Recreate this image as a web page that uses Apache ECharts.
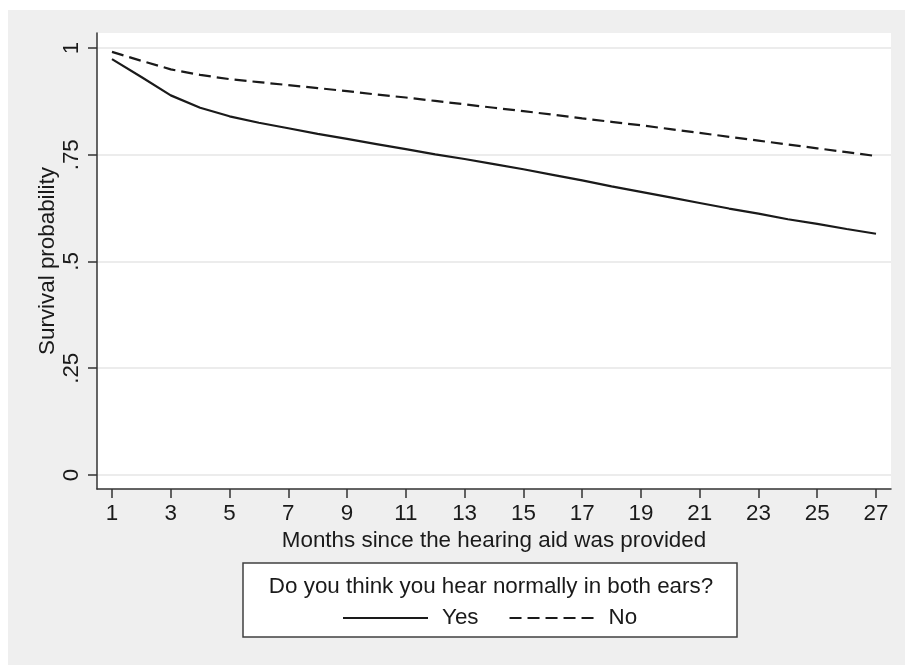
<!DOCTYPE html>
<html>
<head>
<meta charset="utf-8">
<script src="https://cdn.jsdelivr.net/npm/echarts@6/dist/echarts.min.js"></script>
<style>
html,body{margin:0;padding:0;background:#fff;}
#chart{width:905px;height:665px;}
</style>
</head>
<body>
<div id="chart"></div>
<script>
const months = [1,2,3,4,5,6,7,8,9,10,11,12,13,14,15,16,17,18,19,20,21,22,23,24,25,26,27];
const yesValues = [0.974,0.932,0.889,0.860,0.840,0.825,0.812,0.799,0.787,0.775,0.763,0.751,0.740,0.728,0.716,0.703,0.690,0.676,0.663,0.650,0.637,0.624,0.612,0.599,0.588,0.576,0.565];
const noValues  = [0.991,0.970,0.950,0.937,0.927,0.920,0.913,0.906,0.899,0.891,0.884,0.876,0.868,0.860,0.852,0.844,0.835,0.827,0.819,0.810,0.801,0.792,0.783,0.774,0.765,0.756,0.747];
const xTickValues = [1,3,5,7,9,11,13,15,17,19,21,23,25,27];
const yTickValues = [0,0.25,0.5,0.75,1];
const yTickLabels = ['0','.25','.5','.75','1'];
const seriesNames = ['Yes','No'];
const legendTitle = 'Do you think you hear normally in both ears?';
const xTitle = 'Months since the hearing aid was provided';
const yTitle = 'Survival probability';

const FONT = '"Liberation Sans", Arial, Helvetica, sans-serif';
const FS = 22.4;
const INK = '#1a1a1a';
const AXIS = '#333333';

const chart = echarts.init(document.getElementById('chart'), null, {renderer:'canvas'});
chart.setOption({
  backgroundColor: '#ffffff',
  animation: false,
  textStyle: {fontFamily: FONT, color: INK},
  graphic: [
    {type:'rect', z:-10, silent:true, shape:{x:8, y:10, width:897, height:655}, style:{fill:'#efefef'}},
    {type:'rect', z:10, silent:true, shape:{x:243, y:563, width:494, height:74}, style:{fill:'#ffffff', stroke:'#404040', lineWidth:1.5}},
    {type:'text', z:11, silent:true, x:491, y:587, style:{text:legendTitle, font:FS + 'px ' + FONT, fill:INK, textAlign:'center', textVerticalAlign:'middle'}}
  ],
  grid: {left:97, top:33, right:14, bottom:176, show:true, backgroundColor:'#ffffff', borderWidth:0},
  legend: {
    z: 12,
    left: 342, top: 607, padding: 0,
    itemWidth: 85, itemHeight: 22, itemGap: 30,
    itemStyle: {opacity: 0},
    textStyle: {fontSize:FS, fontFamily:FONT, color:INK, padding:[0,0,0,9]},
    data: seriesNames
  },
  xAxis: {
    type:'value', min:0.49, max:27.51,
    name: xTitle, nameLocation:'middle', nameGap:41, nameMoveOverlap:false,
    nameTextStyle:{fontSize:FS, fontFamily:FONT, color:INK},
    axisLine:{show:true, onZero:false, lineStyle:{color:AXIS, width:1.5}},
    axisTick:{show:true, length:9, lineStyle:{color:AXIS, width:1.5}, customValues:xTickValues},
    axisLabel:{fontSize:FS, fontFamily:FONT, color:INK, margin:14, customValues:xTickValues},
    splitLine:{show:false}
  },
  yAxis: {
    type:'value', min:-0.0328, max:1.0351,
    name: yTitle, nameLocation:'middle', nameGap:38, nameMoveOverlap:false,
    nameTextStyle:{fontSize:FS, fontFamily:FONT, color:INK},
    axisLine:{show:true, onZero:false, lineStyle:{color:AXIS, width:1.5}},
    axisTick:{show:true, length:9, lineStyle:{color:AXIS, width:1.5}, customValues:yTickValues},
    axisLabel:{fontSize:FS, fontFamily:FONT, color:INK, margin:14, rotate:90, customValues:yTickValues,
      formatter: v => { const i = yTickValues.findIndex(t => Math.abs(t - v) < 1e-6); return i >= 0 ? yTickLabels[i] : ''; }},
    splitLine:{show:true, lineStyle:{color:'#e6e6e6', width:1.5}}
  },
  series: [
    {name:seriesNames[0], type:'line', symbol:'none', showSymbol:false, z:3,
     lineStyle:{color:INK, width:2.2, type:'solid'}, itemStyle:{color:INK},
     data: months.map((m,i)=>[m, yesValues[i]])},
    {name:seriesNames[1], type:'line', symbol:'none', showSymbol:false, z:3,
     lineStyle:{color:INK, width:2.2, type:[12,6]}, itemStyle:{color:INK},
     data: months.map((m,i)=>[m, noValues[i]])}
  ]
});
</script>
</body>
</html>
